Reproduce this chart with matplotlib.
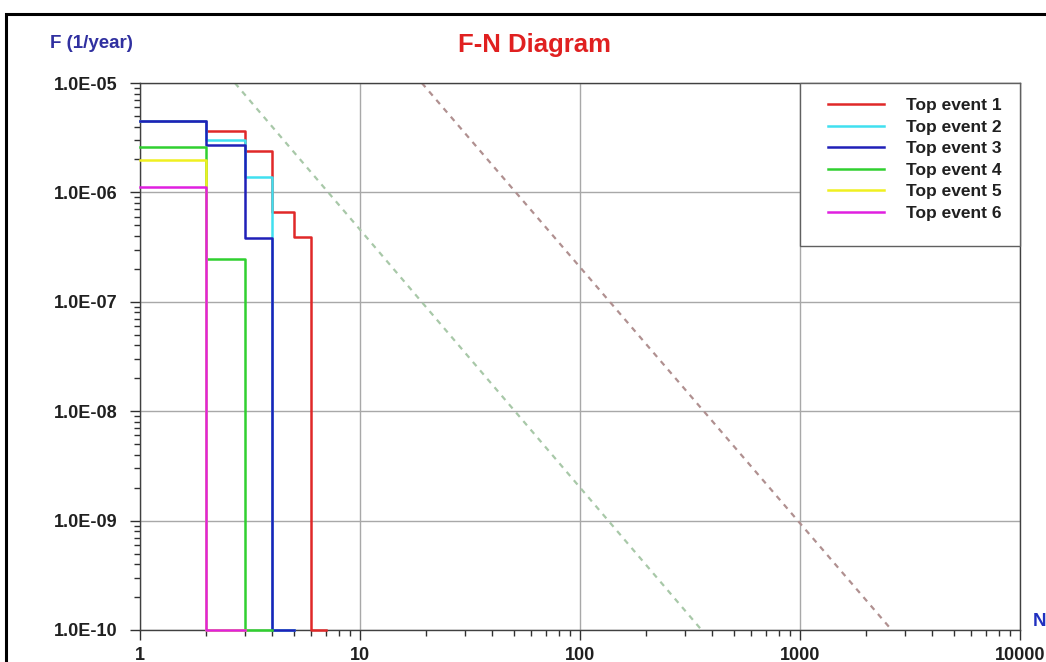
import matplotlib

matplotlib.use("Agg")

import matplotlib.pyplot as plt
from matplotlib.patches import Rectangle
from matplotlib.ticker import FixedLocator, FuncFormatter, LogLocator, NullFormatter

plt.rcParams["font.family"] = ["Liberation Sans", "DejaVu Sans"]
plt.rcParams["font.weight"] = "bold"

# Cumulative frequency per top event, drawn as post-steps over N (fatalities)
N_EVENT1 = [1, 2, 3, 4, 5, 6, 7]
F_EVENT1 = [4.53e-6, 3.64e-6, 2.39e-6, 6.67e-7, 3.9e-7, 1e-10, 1e-10]
N_EVENT2 = [1, 2, 3, 4, 5]
F_EVENT2 = [4.53e-6, 3.0e-6, 1.39e-6, 1e-10, 1e-10]
N_EVENT3 = [1, 2, 3, 4, 5]
F_EVENT3 = [4.53e-6, 2.71e-6, 3.86e-7, 1e-10, 1e-10]
N_EVENT4 = [1, 2, 3, 4]
F_EVENT4 = [2.58e-6, 2.46e-7, 1e-10, 1e-10]
N_EVENT5 = [1, 2, 3]
F_EVENT5 = [1.98e-6, 1e-10, 1e-10]
N_EVENT6 = [1, 2, 3]
F_EVENT6 = [1.13e-6, 1e-10, 1e-10]

LABELS = ["Top event 1", "Top event 2", "Top event 3",
          "Top event 4", "Top event 5", "Top event 6"]
COLORS = ["#e02828", "#40e0f0", "#2020b8", "#30d030", "#f0f020", "#e020e0"]

# Criterion lines (end points on the chart frame)
N_UPPER = [19.1, 2611]
F_UPPER = [1e-5, 1e-10]
N_LOWER = [2.7, 357]
F_LOWER = [1e-5, 1e-10]

Y_TICKS = [1e-10, 1e-9, 1e-8, 1e-7, 1e-6, 1e-5]
X_TICKS = [1, 10, 100, 1000, 10000]

TXT = "#202020"

fig = plt.figure(figsize=(10.46, 6.62), dpi=100)
ax = fig.add_axes([140 / 1046, 1 - 630 / 662, 880 / 1046, 547 / 662])

# outer frame of the picture
fig.patches.append(Rectangle((6 / 1046, -0.05), 1.1, 1 - 14 / 662 + 0.05,
                             transform=fig.transFigure, fill=False,
                             edgecolor="black", lw=2.2))

ax.plot(N_UPPER, F_UPPER, color="#b09090", lw=1.6, ls=(0, (2.5, 2.5)), zorder=2)
ax.plot(N_LOWER, F_LOWER, color="#a8c8a8", lw=1.6, ls=(0, (2.5, 2.5)), zorder=2)

series = [(N_EVENT1, F_EVENT1), (N_EVENT2, F_EVENT2), (N_EVENT3, F_EVENT3),
          (N_EVENT4, F_EVENT4), (N_EVENT5, F_EVENT5), (N_EVENT6, F_EVENT6)]
for (n, f), lab, col in zip(series, LABELS, COLORS):
    ax.step(n, f, where="post", color=col, lw=1.8, label=lab,
            clip_on=False, zorder=3)

ax.set_xscale("log")
ax.set_yscale("log")
ax.set_xlim(1, 10000)
ax.set_ylim(1e-10, 1e-5)

ax.xaxis.set_major_locator(FixedLocator(X_TICKS))
ax.xaxis.set_minor_locator(LogLocator(base=10, subs=range(2, 10)))
ax.xaxis.set_minor_formatter(NullFormatter())
ax.xaxis.set_major_formatter(FuncFormatter(lambda v, p: f"{v:g}"))
ax.yaxis.set_major_locator(FixedLocator(Y_TICKS))
ax.yaxis.set_minor_locator(LogLocator(base=10, subs=range(2, 10)))
ax.yaxis.set_minor_formatter(NullFormatter())
ax.yaxis.set_major_formatter(FuncFormatter(lambda v, p: f"{v:.1E}"))

ax.tick_params(which="major", direction="out", length=7, width=1,
               color="#303030", labelsize=13, labelcolor=TXT)
ax.tick_params(which="minor", direction="out", length=4, width=1, color="#303030")
ax.tick_params(axis="y", which="major", pad=9)
ax.tick_params(axis="x", which="major", pad=5)

ax.grid(True, which="major", color="#a8a8a8", lw=1)
ax.set_axisbelow(True)
for s in ax.spines.values():
    s.set_color("#404040")
    s.set_linewidth(1)

# legend box drawn separately so its padding matches the original
ax.add_patch(Rectangle(((800 - 140) / 880, (630 - 246) / 547),
                       (1020 - 800) / 880, (246 - 83) / 547,
                       transform=ax.transAxes, facecolor="white",
                       edgecolor="#606060", lw=1, zorder=4, clip_on=False))
leg = ax.legend(loc="upper left", bbox_to_anchor=((828 - 140) / 880, (630 - 98) / 547),
                borderaxespad=0, borderpad=0, fontsize=12.5, frameon=False,
                handlelength=3.2, handletextpad=1.3, labelspacing=0.37)
leg.set_zorder(5)
for t in leg.get_texts():
    t.set_color(TXT)

fig.text(535 / 1046, 1 - 45 / 662, "F-N Diagram", color="#e02020",
         fontsize=18.5, fontweight="bold", ha="center", va="center")
fig.text(50 / 1046, 1 - 43 / 662, "F (1/year)", color="#3030a0",
         fontsize=13.5, fontweight="bold", ha="left", va="center")
fig.text(1033 / 1046, 1 - 622 / 662, "N", color="#2030c0",
         fontsize=13.5, fontweight="bold", ha="left", va="center")

fig.savefig("out.png", dpi=100)
